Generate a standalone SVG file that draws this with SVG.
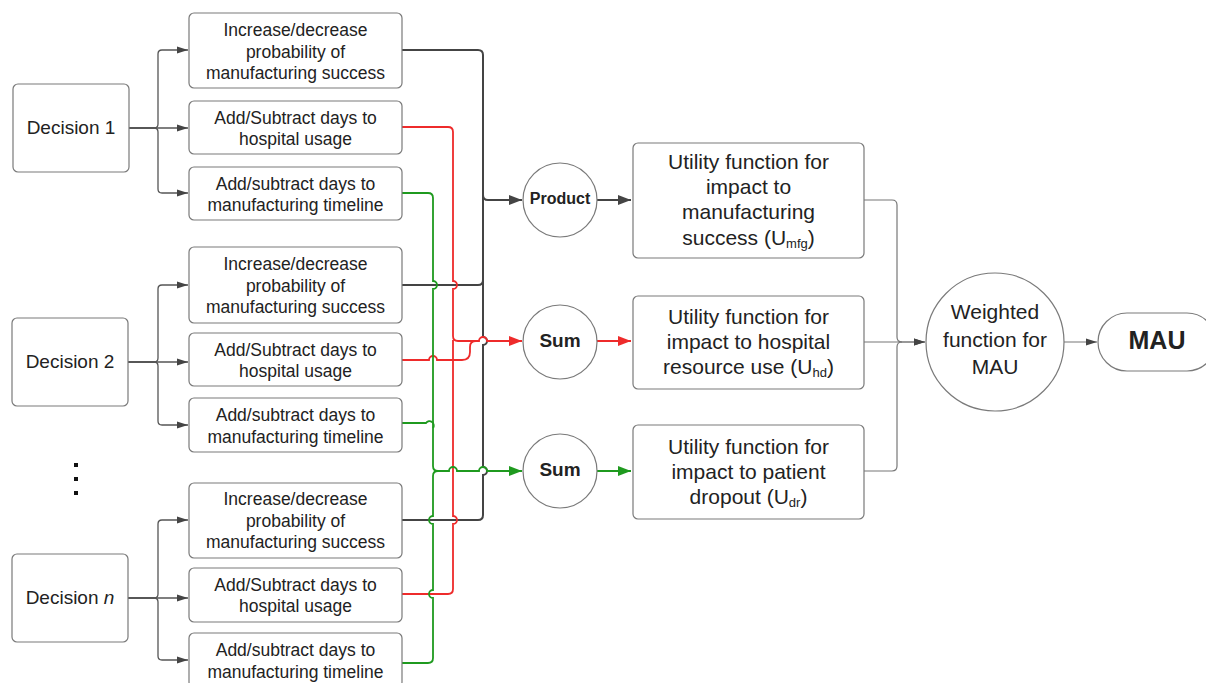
<svg xmlns="http://www.w3.org/2000/svg" width="1206" height="683" viewBox="0 0 1206 683">
<style>
.box{fill:#fff;stroke:#7a7a7a;stroke-width:1.2}
.t{font-family:"Liberation Sans",Arial,sans-serif;fill:#222;text-anchor:middle}
.s{font-size:17.5px}
.u{font-size:21px}
.d{font-size:19px}
.b{font-weight:bold}
.br{fill:none;stroke:#555;stroke-width:1.3}
.k{fill:none;stroke:#444;stroke-width:2}
.r{fill:none;stroke:#ee2b2b;stroke-width:1.8}
.g{fill:none;stroke:#1f9a1f;stroke-width:1.8}
.thin{fill:none;stroke:#777;stroke-width:1.2}
</style>
<defs>
<marker id="as" markerUnits="userSpaceOnUse" markerWidth="12" markerHeight="10" refX="11" refY="5" orient="auto"><path d="M0,1.5 L11,5 L0,8.5 Z" fill="#444"/></marker>
<marker id="ar" markerUnits="userSpaceOnUse" markerWidth="14" markerHeight="12" refX="13" refY="6" orient="auto"><path d="M0,1 L13,6 L0,11 Z" fill="#ee2b2b"/></marker>
<marker id="ag" markerUnits="userSpaceOnUse" markerWidth="14" markerHeight="12" refX="13" refY="6" orient="auto"><path d="M0,1 L13,6 L0,11 Z" fill="#1f9a1f"/></marker>
<marker id="ak" markerUnits="userSpaceOnUse" markerWidth="14" markerHeight="12" refX="13" refY="6" orient="auto"><path d="M0,1 L13,6 L0,11 Z" fill="#444"/></marker>
</defs>
<rect width="1206" height="683" fill="#fff"/>

<g id="connectors">
<path class="br" d="M129,128 H154 Q158,128 158,124 V54 Q158,50 162,50 H188" marker-end="url(#as)"/>
<path class="br" d="M129,128 H188" marker-end="url(#as)"/>
<path class="br" d="M129,128 H154 Q158,128 158,132 V189 Q158,193 162,193 H188" marker-end="url(#as)"/>
<path class="br" d="M128,362 H154 Q158,362 158,358 V289 Q158,285 162,285 H188" marker-end="url(#as)"/>
<path class="br" d="M128,362 H188" marker-end="url(#as)"/>
<path class="br" d="M128,362 H154 Q158,362 158,366 V421 Q158,425 162,425 H188" marker-end="url(#as)"/>
<path class="br" d="M128,598 H154 Q158,598 158,594 V524 Q158,520 162,520 H188" marker-end="url(#as)"/>
<path class="br" d="M128,598 H188" marker-end="url(#as)"/>
<path class="br" d="M128,598 H154 Q158,598 158,602 V656 Q158,660 162,660 H188" marker-end="url(#as)"/>

<path class="k" d="M402,50 H478 Q483,50 483,55 V337 A4,4 0 0 1 483,345 V467 A4,4 0 0 1 483,475 V515 Q483,520 478,520 H402"/>
<path class="k" d="M402,285 H478 Q483,285 483,280"/>
<path class="k" d="M483,195 Q483,200 488,200 H522" marker-end="url(#ak)"/>

<path class="r" d="M402,127 H448 Q453,127 453,132 V281 A4,4 0 0 1 453,289 V336 Q453,341 458,341 H479 A4,4 0 0 1 487,341 H522" marker-end="url(#ar)"/>
<path class="r" d="M453,340 V516 A4,4 0 0 1 453,524 V589 Q453,594 448,594 H402"/>
<path class="r" d="M402,360 H429 A4,4 0 0 1 437,360 H462 Q470,360 470,352 V347 Q470,341 476,341"/>

<path class="g" d="M402,193 H428 Q433,193 433,198 V281 A4,4 0 0 1 433,289 V466 Q433,471 438,471 H449 A4,4 0 0 1 457,471 H479 A4,4 0 0 1 487,471 H522" marker-end="url(#ag)"/>
<path class="g" d="M402,423 H426 A4,4 0 0 1 433,428"/>
<path class="g" d="M402,663 H428 Q433,663 433,658 V598 A4,4 0 0 1 433,590 V524 A4,4 0 0 1 433,516 V476 Q433,471 438,471"/>

<path class="k" d="M597,200 H631" marker-end="url(#ak)"/>
<path class="r" d="M597,341 H631" marker-end="url(#ar)"/>
<path class="g" d="M597,471 H631" marker-end="url(#ag)"/>

<path class="thin" d="M864,200 H892 Q897,200 897,205 V337 Q897,342 902,342 H925" marker-end="url(#as)"/>
<path class="thin" d="M864,342 H925" marker-end="url(#as)"/>
<path class="thin" d="M864,471 H892 Q897,471 897,466 V347 Q897,342 902,342"/>
<path class="thin" d="M1064,342 H1097" marker-end="url(#as)"/>
</g>

<g id="decision1"><rect class="box" x="13" y="84" width="116" height="88" rx="5"/><text class="t d" x="71" y="134">Decision 1</text></g>
<g id="decision2"><rect class="box" x="12" y="318" width="116" height="88" rx="5"/><text class="t d" x="70" y="368">Decision 2</text></g>
<g id="decisionn"><rect class="box" x="12" y="554" width="116" height="88" rx="5"/><text class="t d" x="70" y="604">Decision <tspan font-style="italic">n</tspan></text></g>
<g id="dots" fill="#111"><rect x="74" y="463" width="4" height="4"/><rect x="74" y="477" width="4" height="4"/><rect x="74" y="491" width="4" height="4"/></g>

<g id="prob1"><rect class="box" x="189" y="13" width="213" height="75" rx="5"/><text class="t s"><tspan x="295.5" y="36">Increase/decrease</tspan><tspan x="295.5" y="58">probability of</tspan><tspan x="295.5" y="79">manufacturing success</tspan></text></g>
<g id="hosp1"><rect class="box" x="189" y="101" width="213" height="53" rx="5"/><text class="t s"><tspan x="295.5" y="124">Add/Subtract days to</tspan><tspan x="295.5" y="145">hospital usage</tspan></text></g>
<g id="mfg1"><rect class="box" x="189" y="167" width="213" height="53" rx="5"/><text class="t s"><tspan x="295.5" y="190">Add/subtract days to</tspan><tspan x="295.5" y="211">manufacturing timeline</tspan></text></g>

<g id="prob2"><rect class="box" x="189" y="247" width="213" height="76" rx="5"/><text class="t s"><tspan x="295.5" y="270">Increase/decrease</tspan><tspan x="295.5" y="292">probability of</tspan><tspan x="295.5" y="313">manufacturing success</tspan></text></g>
<g id="hosp2"><rect class="box" x="189" y="333" width="213" height="53" rx="5"/><text class="t s"><tspan x="295.5" y="356">Add/Subtract days to</tspan><tspan x="295.5" y="377">hospital usage</tspan></text></g>
<g id="mfg2"><rect class="box" x="189" y="398" width="213" height="54" rx="5"/><text class="t s"><tspan x="295.5" y="421">Add/subtract days to</tspan><tspan x="295.5" y="443">manufacturing timeline</tspan></text></g>

<g id="probn"><rect class="box" x="189" y="483" width="213" height="75" rx="5"/><text class="t s"><tspan x="295.5" y="505">Increase/decrease</tspan><tspan x="295.5" y="527">probability of</tspan><tspan x="295.5" y="548">manufacturing success</tspan></text></g>
<g id="hospn"><rect class="box" x="189" y="568" width="213" height="54" rx="5"/><text class="t s"><tspan x="295.5" y="591">Add/Subtract days to</tspan><tspan x="295.5" y="612">hospital usage</tspan></text></g>
<g id="mfgn"><rect class="box" x="189" y="633" width="213" height="54" rx="5"/><text class="t s"><tspan x="295.5" y="656">Add/subtract days to</tspan><tspan x="295.5" y="678">manufacturing timeline</tspan></text></g>

<g id="product"><circle class="box" cx="560" cy="200" r="37"/><text class="t b" x="560" y="204" font-size="16">Product</text></g>
<g id="sum1"><circle class="box" cx="560" cy="342" r="37"/><text class="t b" x="560" y="347" font-size="19">Sum</text></g>
<g id="sum2"><circle class="box" cx="560" cy="471" r="37"/><text class="t b" x="560" y="476" font-size="19">Sum</text></g>

<g id="umfg"><rect class="box" x="633" y="143" width="231" height="115" rx="5"/><text class="t u"><tspan x="748.5" y="169">Utility function for</tspan><tspan x="748.5" y="194">impact to</tspan><tspan x="748.5" y="219">manufacturing</tspan><tspan x="748.5" y="245">success (U<tspan font-size="13" dy="3">mfg</tspan><tspan dy="-3">)</tspan></tspan></text></g>
<g id="uhd"><rect class="box" x="633" y="296" width="231" height="93" rx="5"/><text class="t u"><tspan x="748.5" y="324">Utility function for</tspan><tspan x="748.5" y="349">impact to hospital</tspan><tspan x="748.5" y="374">resource use (U<tspan font-size="13" dy="3">hd</tspan><tspan dy="-3">)</tspan></tspan></text></g>
<g id="udr"><rect class="box" x="633" y="425" width="231" height="94" rx="5"/><text class="t u"><tspan x="748.5" y="454">Utility function for</tspan><tspan x="748.5" y="479">impact to patient</tspan><tspan x="748.5" y="504">dropout (U<tspan font-size="13" dy="3">dr</tspan><tspan dy="-3">)</tspan></tspan></text></g>

<g id="weighted"><circle class="box" cx="995" cy="342" r="69"/><text class="t" font-size="21"><tspan x="995" y="319">Weighted</tspan><tspan x="995" y="347">function for</tspan><tspan x="995" y="374">MAU</tspan></text></g>
<g id="mau"><rect class="box" x="1098" y="313" width="118" height="58" rx="29"/><text class="t b" x="1157" y="349" font-size="25">MAU</text></g>
</svg>
